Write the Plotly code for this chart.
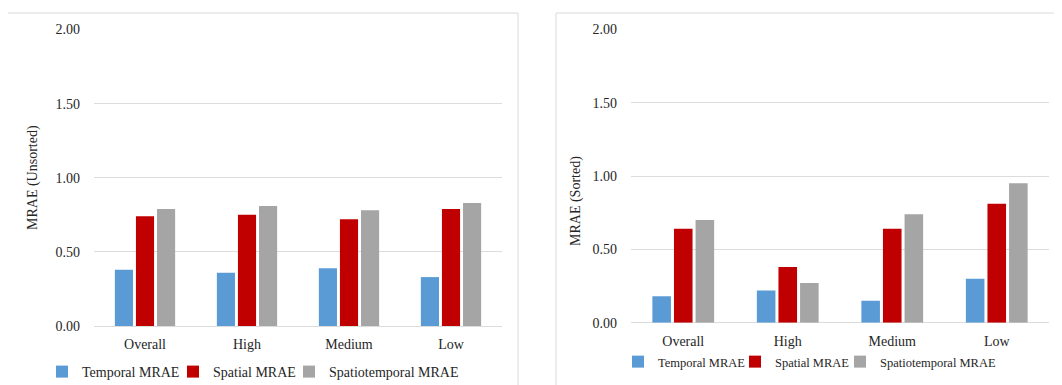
import plotly.graph_objects as go

W, H = 1062, 385
OFF = 8  # page body margin in the browser


def fx(px):
    return (px - OFF) / W


def fy(py):
    return (H - (py - OFF)) / H


categories = ["Overall", "High", "Medium", "Low"]
series_names = ["Temporal MRAE", "Spatial MRAE", "Spatiotemporal MRAE"]
colors = ["#5b9bd5", "#c00000", "#a5a5a5"]

unsorted_temporal = [0.38, 0.36, 0.39, 0.33]
unsorted_spatial = [0.74, 0.75, 0.72, 0.79]
unsorted_spatiotemporal = [0.79, 0.81, 0.78, 0.83]

sorted_temporal = [0.18, 0.22, 0.15, 0.30]
sorted_spatial = [0.64, 0.38, 0.64, 0.81]
sorted_spatiotemporal = [0.70, 0.27, 0.74, 0.95]

y_ticks = [0, 0.5, 1.0, 1.5, 2.0]
y_ticktext = ["0.00", "0.50", "1.00", "1.50", "2.00"]

FONT = "Liberation Serif, Times New Roman, serif"
TXT = "#262626"
GRID = "#dcdcdc"

fig = go.Figure()

left = [unsorted_temporal, unsorted_spatial, unsorted_spatiotemporal]
right = [sorted_temporal, sorted_spatial, sorted_spatiotemporal]

legend_names = ["legend", "legend2", "legend3", "legend4", "legend5", "legend6"]

for i, (name, vals) in enumerate(zip(series_names, left)):
    fig.add_trace(go.Bar(x=categories, y=vals, name=name, marker=dict(color=colors[i], line=dict(width=0)),
                         xaxis="x", yaxis="y", legend=legend_names[i], showlegend=True))
for i, (name, vals) in enumerate(zip(series_names, right)):
    fig.add_trace(go.Bar(x=categories, y=vals, name=name, marker=dict(color=colors[i], line=dict(width=0)),
                         xaxis="x2", yaxis="y2", legend=legend_names[3 + i], showlegend=True))

axis_common = dict(showline=False, ticks="", ticklabelstandoff=8,
                   tickfont=dict(family=FONT, size=14, color=TXT))
yaxis_common = dict(range=[0, 2], tickvals=y_ticks, ticktext=y_ticktext, showgrid=True, gridcolor=GRID,
                    gridwidth=1, zeroline=True, zerolinecolor=GRID, zerolinewidth=1,
                    showline=False, ticks="", ticklabelstandoff=13,
                    tickfont=dict(family=FONT, size=14, color=TXT))

# legend positions (text start px, center y px)
left_leg = [(82, 372), (213, 372), (329, 372)]
right_leg = [(658, 362), (775, 362), (880, 362)]
leg_layout = {}
for j, (px, py) in enumerate(left_leg + right_leg):
    size = 14 if j < 3 else 12.5
    leg_layout[legend_names[j]] = dict(
        x=fx(px - 40), y=fy(py), xanchor="left", yanchor="middle",
        orientation="h", bgcolor="rgba(0,0,0,0)", borderwidth=0,
        font=dict(family=FONT, size=size, color=TXT), itemwidth=30)

fig.update_layout(
    width=W, height=H, margin=dict(l=0, r=0, t=0, b=0, autoexpand=False),
    paper_bgcolor="white", plot_bgcolor="white",
    barmode="group", bargap=0.38, bargroupgap=0.14,
    font=dict(family=FONT, color=TXT),
    xaxis=dict(domain=[fx(94), fx(502)], anchor="y", **axis_common),
    yaxis=dict(domain=[fy(326), fy(29.5)], anchor="x", **yaxis_common),
    xaxis2=dict(domain=[fx(631), fx(1049)], anchor="y2", **axis_common),
    yaxis2=dict(domain=[fy(322.7), fy(29.3)], anchor="x2", **yaxis_common),
    shapes=[
        dict(type="rect", xref="paper", yref="paper", x0=fx(7), x1=fx(518), y0=-0.05, y1=fy(13),
             line=dict(color="#d9d9d9", width=1), fillcolor="rgba(0,0,0,0)", layer="below"),
        dict(type="rect", xref="paper", yref="paper", x0=fx(556), x1=1.05, y0=-0.05, y1=fy(13),
             line=dict(color="#d9d9d9", width=1), fillcolor="rgba(0,0,0,0)", layer="below"),
    ],
    annotations=[
        dict(text="MRAE (Unsorted)", x=fx(33), y=fy(178), xref="paper", yref="paper",
             xanchor="center", yanchor="middle",
             textangle=-90, showarrow=False, font=dict(family=FONT, size=14, color=TXT)),
        dict(text="MRAE (Sorted)", x=fx(576), y=fy(201), xref="paper", yref="paper",
             xanchor="center", yanchor="middle",
             textangle=-90, showarrow=False, font=dict(family=FONT, size=14, color=TXT)),
    ],
    **leg_layout,
)

fig.write_html("out.html")
